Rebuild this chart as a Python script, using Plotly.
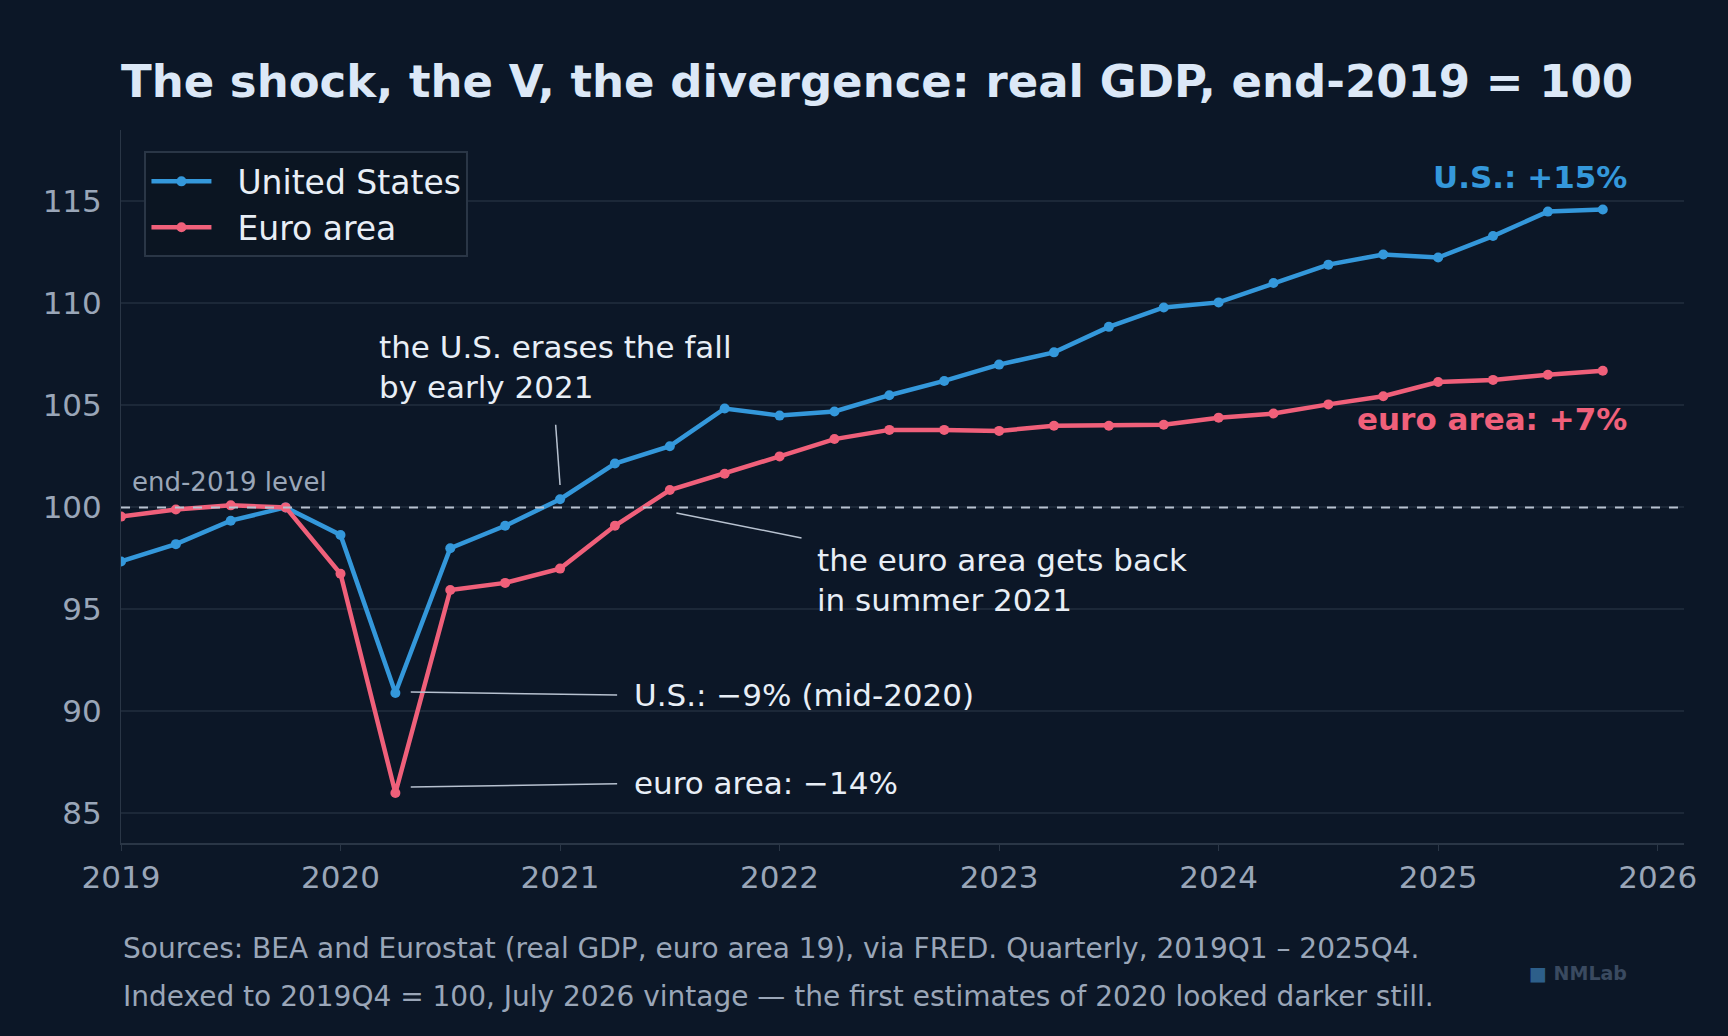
import plotly.graph_objects as go

# === Data (quarterly, 2019Q1 - 2025Q4, index 2019Q4 = 100) ===
quarters = [y + q / 4 for y in range(2019, 2026) for q in range(4)]
us_gdp = [97.35, 98.2, 99.35, 100.0, 98.65, 90.9, 98.0, 99.1,
          100.4, 102.15, 103.0, 104.85, 104.5, 104.7, 105.5, 106.2,
          107.0, 107.6, 108.85, 109.8, 110.05, 111.0, 111.9, 112.4,
          112.25, 113.3, 114.5, 114.6]
ea_gdp = [99.55, 99.9, 100.1, 100.0, 96.75, 86.0, 95.95, 96.3,
          97.0, 99.1, 100.85, 101.65, 102.5, 103.35, 103.8, 103.8,
          103.75, 104.0, 104.0, 104.05, 104.4, 104.6, 105.05, 105.45,
          106.15, 106.25, 106.5, 106.7]
year_ticks = list(range(2019, 2027))
y_ticks = [85, 90, 95, 100, 105, 110, 115]

BG = "#0c1727"
BLUE = "#3498db"
RED = "#f0607a"
TEXT = "#e8eef6"
MUTED = "#9aa6b8"
FONT = "DejaVu Sans"

fig = go.Figure()
fig.add_trace(go.Scatter(
    x=quarters, y=us_gdp, mode="lines+markers", name="  United States",
    line=dict(color=BLUE, width=4.5), marker=dict(size=10, color=BLUE)
))
fig.add_trace(go.Scatter(
    x=quarters, y=ea_gdp, mode="lines+markers", name="  Euro area",
    line=dict(color=RED, width=4.5), marker=dict(size=10, color=RED)
))

# reference level
fig.add_hline(y=100, line=dict(color="#b8c2d0", width=2, dash="dash"))

# leader lines
leaders = [
    (2020.32, 90.95, 2021.26, 90.8),
    (2020.32, 86.3, 2021.26, 86.45),
    (2020.98, 104.05, 2021.0, 101.1),
    (2021.53, 99.73, 2022.10, 98.5),
]
for x0, y0, x1, y1 in leaders:
    fig.add_shape(type="line", x0=x0, y0=y0, x1=x1, y1=y1,
                  line=dict(color="#b8c2d0", width=1.5))

notes = [
    dict(x=2021.33, y=90.8, text="U.S.: −9% (mid-2020)", xanchor="left", yanchor="middle"),
    dict(x=2021.33, y=86.5, text="euro area: −14%", xanchor="left", yanchor="middle"),
    dict(x=2020.165, y=104.9, text="the U.S. erases the fall<br>by early 2021", xanchor="left", yanchor="bottom"),
    dict(x=2022.16, y=98.4, text="the euro area gets back<br>in summer 2021", xanchor="left", yanchor="top"),
]
for n in notes:
    fig.add_annotation(**n, showarrow=False, align="left",
                       font=dict(family=FONT, size=31, color=TEXT))

fig.add_annotation(x=2019.04, y=100.4, text="end-2019 level", showarrow=False,
                   xanchor="left", yanchor="bottom",
                   font=dict(family=FONT, size=26, color=MUTED))
fig.add_annotation(x=2025.87, y=116.2, text="<b>U.S.: +15%</b>", showarrow=False,
                   xanchor="right", yanchor="middle",
                   font=dict(family=FONT, size=31, color=BLUE))
fig.add_annotation(x=2025.87, y=104.35, text="<b>euro area: +7%</b>", showarrow=False,
                   xanchor="right", yanchor="middle",
                   font=dict(family=FONT, size=31, color=RED))

# footer
fig.add_annotation(xref="paper", yref="paper", x=0, y=-0.148,
                   text="Sources: BEA and Eurostat (real GDP, euro area 19), via FRED. Quarterly, 2019Q1 – 2025Q4.",
                   showarrow=False, xanchor="left", yanchor="middle",
                   font=dict(family=FONT, size=28, color=MUTED))
fig.add_annotation(xref="paper", yref="paper", x=0, y=-0.215,
                   text="Indexed to 2019Q4 = 100, July 2026 vintage — the first estimates of 2020 looked darker still.",
                   showarrow=False, xanchor="left", yanchor="middle",
                   font=dict(family=FONT, size=28, color=MUTED))
fig.add_annotation(xref="paper", yref="paper", x=0.965, y=-0.183,
                   text="<b><span style='color:#2d5f8a'>■</span> NMLab</b>",
                   showarrow=False, xanchor="right", yanchor="middle",
                   font=dict(family=FONT, size=19, color="#3a4a60"))

fig.update_layout(
    width=1728, height=1036,
    paper_bgcolor=BG, plot_bgcolor=BG,
    margin=dict(l=121, r=44, t=130, b=193),
    font=dict(family=FONT, color=TEXT),
    title=dict(text="<b>The shock, the V, the divergence: real GDP, end-2019 = 100</b>",
               x=0.07, xanchor="left", y=0.922, yanchor="middle",
               font=dict(family=FONT, size=45, color="#dce8f7")),
    legend=dict(x=0.015, y=0.97, xanchor="left", yanchor="top",
                bgcolor="#0b1522", bordercolor="#2a3646", borderwidth=2,
                itemwidth=60,
                font=dict(family=FONT, size=33, color=TEXT)),
    showlegend=True,
)
fig.update_xaxes(range=[2019, 2026.12], tickvals=year_ticks, ticktext=[str(t) for t in year_ticks],
                 showgrid=False, zeroline=False, showline=True, linecolor="#2a3646", linewidth=2,
                 ticks="outside", ticklen=6, tickcolor="#2a3646",
                 tickfont=dict(family=FONT, size=31, color=MUTED))
fig.update_yaxes(range=[83.55, 118.5], tickvals=y_ticks, ticktext=[str(t) for t in y_ticks],
                 showgrid=True, gridcolor="#1c2838", gridwidth=1.5, zeroline=False,
                 showline=True, linecolor="#2a3646", linewidth=1, ticklabelstandoff=12,
                 tickfont=dict(family=FONT, size=31, color=MUTED))

fig.write_html("out.html", config={"displayModeBar": False},
               post_script="document.body.style.margin='0';document.body.style.background='#0c1727';")
